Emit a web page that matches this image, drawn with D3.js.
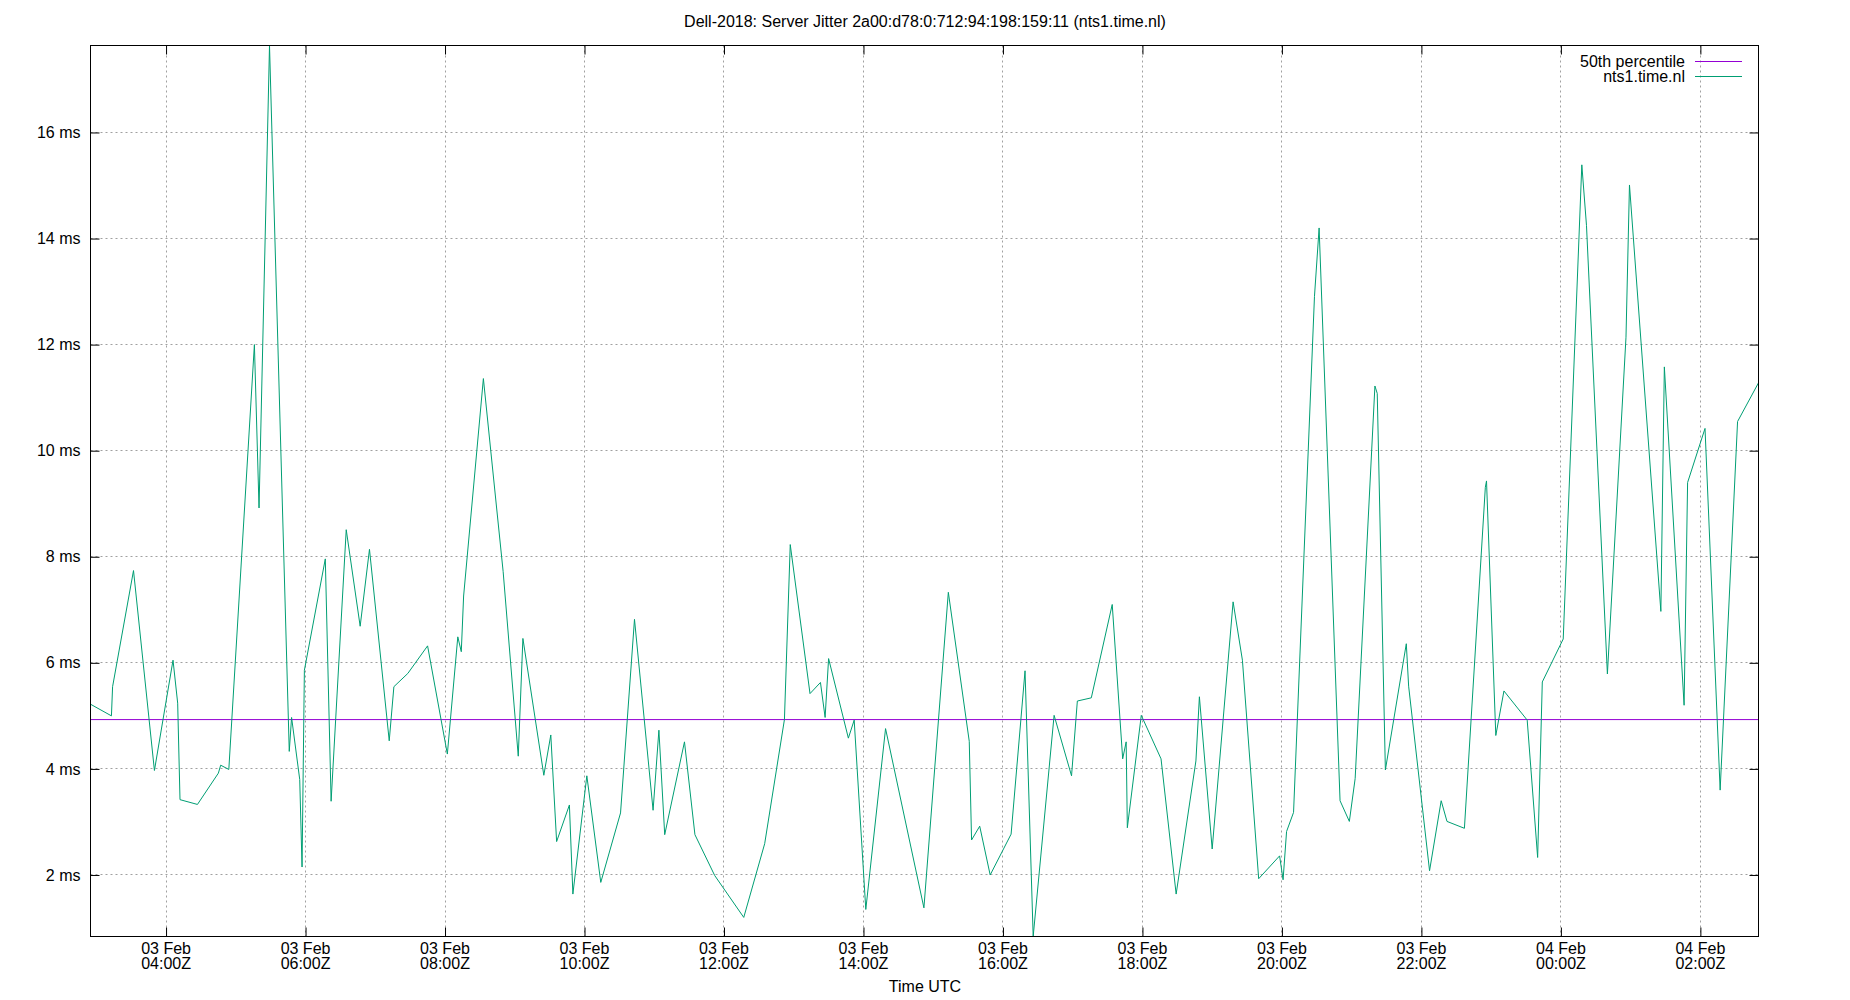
<!DOCTYPE html>
<html>
<head>
<meta charset="utf-8">
<script src="https://cdn.jsdelivr.net/npm/d3@7"></script>
<style>
  html, body { margin: 0; padding: 0; background: #fff; }
  svg text { font-family: "Liberation Sans", Arial, sans-serif; fill: #000; }
</style>
</head>
<body>
<svg id="chart" width="1850" height="1000"></svg>
<script>
const chartTitle = "Dell-2018: Server Jitter 2a00:d78:0:712:94:198:159:11 (nts1.time.nl)";
const xTitle = "Time UTC";
const seriesName = "nts1.time.nl";
const percentileName = "50th percentile";
const percentile50 = 4.93;
const yTickValues = [2, 4, 6, 8, 10, 12, 14, 16];

const times = [
  "2018-02-03 02:55","2018-02-03 03:13","2018-02-03 03:14","2018-02-03 03:32","2018-02-03 03:50",
  "2018-02-03 04:06","2018-02-03 04:10","2018-02-03 04:12","2018-02-03 04:27","2018-02-03 04:45",
  "2018-02-03 04:47","2018-02-03 04:54","2018-02-03 05:16","2018-02-03 05:20","2018-02-03 05:29",
  "2018-02-03 05:46","2018-02-03 05:48","2018-02-03 05:55","2018-02-03 05:57","2018-02-03 05:59",
  "2018-02-03 06:17","2018-02-03 06:22","2018-02-03 06:35","2018-02-03 06:47","2018-02-03 06:55",
  "2018-02-03 07:12","2018-02-03 07:16","2018-02-03 07:28","2018-02-03 07:45","2018-02-03 08:02",
  "2018-02-03 08:11","2018-02-03 08:14","2018-02-03 08:16","2018-02-03 08:33","2018-02-03 08:50",
  "2018-02-03 09:03","2018-02-03 09:07","2018-02-03 09:25","2018-02-03 09:31","2018-02-03 09:36",
  "2018-02-03 09:47","2018-02-03 09:50","2018-02-03 10:02","2018-02-03 10:14","2018-02-03 10:31",
  "2018-02-03 10:43","2018-02-03 10:59","2018-02-03 11:04","2018-02-03 11:09","2018-02-03 11:26",
  "2018-02-03 11:35","2018-02-03 11:52","2018-02-03 12:17","2018-02-03 12:35","2018-02-03 12:52",
  "2018-02-03 12:57","2018-02-03 13:14","2018-02-03 13:23","2018-02-03 13:27","2018-02-03 13:30",
  "2018-02-03 13:47","2018-02-03 13:52","2018-02-03 14:02","2018-02-03 14:19","2018-02-03 14:52",
  "2018-02-03 15:13","2018-02-03 15:31","2018-02-03 15:33","2018-02-03 15:40","2018-02-03 15:49",
  "2018-02-03 16:07","2018-02-03 16:19","2018-02-03 16:26","2018-02-03 16:44","2018-02-03 16:59",
  "2018-02-03 17:04","2018-02-03 17:16","2018-02-03 17:34","2018-02-03 17:43","2018-02-03 17:46",
  "2018-02-03 17:47","2018-02-03 17:59","2018-02-03 18:16","2018-02-03 18:29","2018-02-03 18:46",
  "2018-02-03 18:49","2018-02-03 19:00","2018-02-03 19:18","2018-02-03 19:26","2018-02-03 19:40",
  "2018-02-03 19:58","2018-02-03 20:01","2018-02-03 20:04","2018-02-03 20:10","2018-02-03 20:28",
  "2018-02-03 20:32","2018-02-03 20:50","2018-02-03 20:58","2018-02-03 21:03","2018-02-03 21:20",
  "2018-02-03 21:22","2018-02-03 21:29","2018-02-03 21:47","2018-02-03 21:49","2018-02-03 22:07",
  "2018-02-03 22:17","2018-02-03 22:22","2018-02-03 22:37","2018-02-03 22:55","2018-02-03 22:56",
  "2018-02-03 23:04","2018-02-03 23:11","2018-02-03 23:31","2018-02-03 23:40","2018-02-03 23:44",
  "2018-02-04 00:02","2018-02-04 00:18","2018-02-04 00:22","2018-02-04 00:40","2018-02-04 00:56",
  "2018-02-04 00:59","2018-02-04 01:26","2018-02-04 01:29","2018-02-04 01:46","2018-02-04 01:49",
  "2018-02-04 02:04","2018-02-04 02:17","2018-02-04 02:32","2018-02-04 02:50"
];

const jitterMs = [
  5.22, 5.00, 5.55, 7.74, 3.97,
  6.05, 5.24, 3.42, 3.33, 3.92,
  4.07, 3.99, 12.0, 8.92, 17.64,
  4.33, 4.97, 3.80, 2.15, 5.86,
  7.96, 3.39, 8.51, 6.69, 8.14,
  4.53, 5.55, 5.80, 6.32, 4.28,
  6.49, 6.21, 7.26, 11.36, 7.72,
  4.24, 6.46, 3.88, 4.64, 2.63,
  3.32, 1.64, 3.87, 1.86, 3.17,
  6.82, 3.22, 4.73, 2.76, 4.51,
  2.76, 1.99, 1.20, 2.59, 4.93,
  8.23, 5.42, 5.63, 4.97, 6.08,
  4.58, 4.92, 1.35, 4.76, 1.38,
  7.33, 4.52, 2.66, 2.92, 2.00,
  2.77, 5.85, 0.84, 5.01, 3.87,
  5.28, 5.34, 7.10, 4.19, 4.51,
  2.89, 5.01, 4.19, 1.64, 4.15,
  5.36, 2.49, 7.15, 6.05, 1.93,
  2.36, 1.91, 2.82, 3.18, 12.91,
  14.2, 3.40, 3.01, 3.82, 11.22,
  11.08, 3.98, 6.36, 5.56, 2.08,
  3.40, 3.01, 2.88, 9.31, 9.43,
  4.63, 5.47, 4.92, 2.33, 5.64,
  6.45, 15.39, 14.25, 5.79, 12.14,
  15.01, 6.97, 11.58, 5.20, 9.40,
  10.42, 3.60, 10.55, 11.28
];

const parseTime = d3.utcParse("%Y-%m-%d %H:%M");
const data = times.map((t, i) => ({ t: parseTime(t), v: jitterMs[i] }));

const svg = d3.select("#chart");
const L = 90.5, T = 45.5, W = 1668, H = 891;

const x = d3.scaleUtc().domain(d3.extent(data, d => d.t)).range([0, W]);
const y = d3.scaleLinear().domain(d3.extent(data, d => d.v)).range([H, 0]);

const g = svg.append("g").attr("transform", `translate(${L},${T})`);

const xTicks = x.ticks(d3.utcHour.every(2));

// grid
g.append("g").selectAll("line.vg").data(xTicks).join("line")
  .attr("x1", d => Math.round(x(d))).attr("x2", d => Math.round(x(d)))
  .attr("y1", 0).attr("y2", H)
  .attr("stroke", "#a0a0a0").attr("stroke-width", 1).attr("stroke-dasharray", "2,3");
g.append("g").selectAll("line.hg").data(yTickValues).join("line")
  .attr("x1", 0).attr("x2", W)
  .attr("y1", d => Math.round(y(d))).attr("y2", d => Math.round(y(d)))
  .attr("stroke", "#a0a0a0").attr("stroke-width", 1).attr("stroke-dasharray", "2,3");

// axes with inward ticks (mirrored)
const tickLen = 9;
const xb = g.append("g").attr("transform", `translate(0,${H})`)
  .call(d3.axisBottom(x).tickValues(xTicks).tickSize(-tickLen).tickFormat(""));
const xt = g.append("g")
  .call(d3.axisTop(x).tickValues(xTicks).tickSize(-tickLen).tickFormat(""));
const yl = g.append("g")
  .call(d3.axisLeft(y).tickValues(yTickValues).tickSize(-tickLen).tickPadding(10).tickFormat(d => d + " ms"));
const yr = g.append("g").attr("transform", `translate(${W},0)`)
  .call(d3.axisRight(y).tickValues(yTickValues).tickSize(-tickLen).tickFormat(""));
[xb, xt, yl, yr].forEach(a => {
  a.select(".domain").remove();
  a.selectAll(".tick line").attr("stroke", "#000").attr("stroke-width", 1);
});
yl.selectAll(".tick text").attr("font-size", 16).attr("font-family", "Liberation Sans, Arial, sans-serif").attr("fill", "#000");

// x tick labels, two lines
const fmtDay = d3.utcFormat("%d %b");
const fmtHour = d3.utcFormat("%H:%MZ");
const xl = g.append("g").selectAll("text.xl").data(xTicks).join("text")
  .attr("x", d => x(d)).attr("y", H + 17).attr("text-anchor", "middle").attr("font-size", 16);
xl.append("tspan").attr("x", d => x(d)).text(d => fmtDay(d));
xl.append("tspan").attr("x", d => x(d)).attr("dy", 15.5).text(d => fmtHour(d));

// percentile line
g.append("line")
  .attr("x1", 0).attr("x2", W)
  .attr("y1", y(percentile50)).attr("y2", y(percentile50))
  .attr("stroke", "#9400d3").attr("stroke-width", 1);

// series
g.append("path").datum(data)
  .attr("fill", "none").attr("stroke", "#009e73").attr("stroke-width", 1)
  .attr("d", d3.line().x(d => x(d.t)).y(d => y(d.v)));

// border
g.append("rect").attr("x", 0).attr("y", 0).attr("width", W).attr("height", H)
  .attr("fill", "none").attr("stroke", "#000").attr("stroke-width", 1);

// title
svg.append("text").attr("x", 925).attr("y", 27).attr("text-anchor", "middle")
  .attr("font-size", 16).text(chartTitle);
svg.append("text").attr("x", 925).attr("y", 992).attr("text-anchor", "middle")
  .attr("font-size", 16).text(xTitle);

// legend
const legend = [
  { name: percentileName, color: "#9400d3" },
  { name: seriesName, color: "#009e73" }
];
const lg = svg.append("g");
legend.forEach((d, i) => {
  const cy = 61.5 + i * 15;
  lg.append("text").attr("x", 1685).attr("y", cy + 5.5).attr("text-anchor", "end")
    .attr("font-size", 16).text(d.name);
  lg.append("line").attr("x1", 1695).attr("x2", 1742).attr("y1", cy).attr("y2", cy)
    .attr("stroke", d.color).attr("stroke-width", 1);
});
</script>
</body>
</html>
